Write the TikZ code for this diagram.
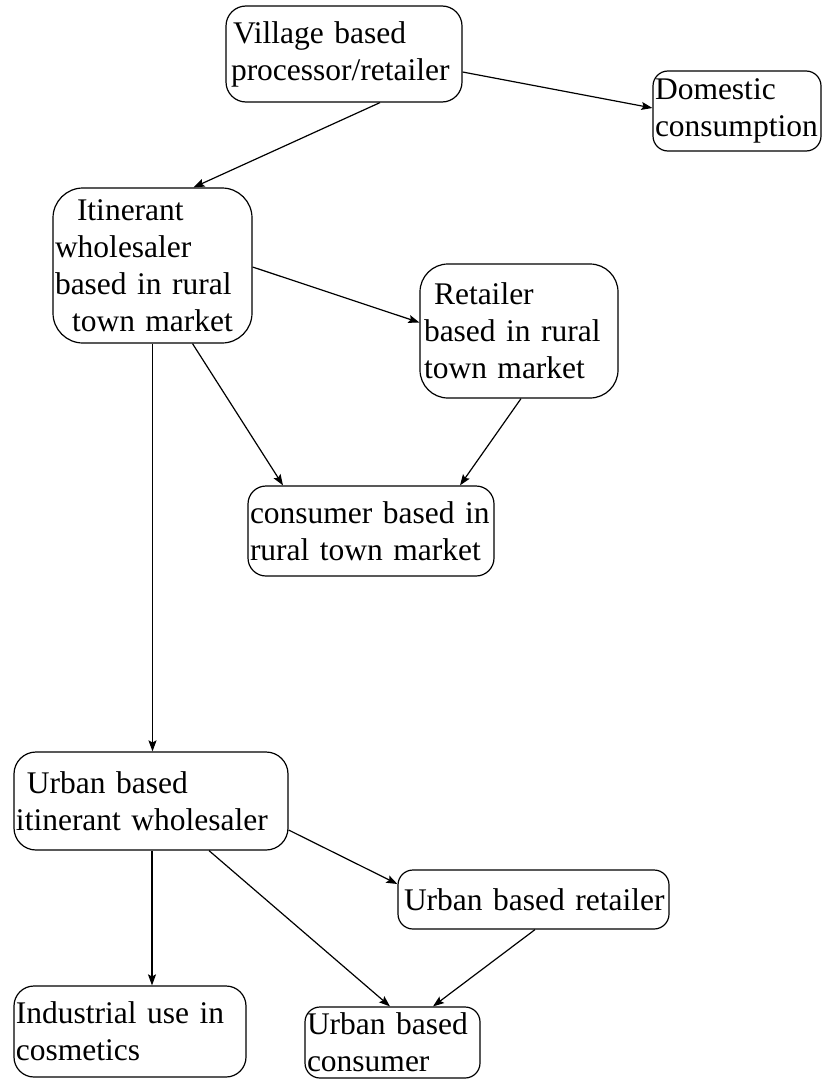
\documentclass[tikz,border=0pt]{standalone}
\usepackage{fontspec}
\setmainfont{Liberation Serif}
\usetikzlibrary{arrows.meta,calc}
\tikzset{
  box/.style={draw, line width=1.2pt, rounded corners=#1, align=left, inner xsep=2pt, inner ysep=0pt,
    font=\fontsize{31.5}{37}\selectfont},
  flow/.style={line width=1.2pt, -{Stealth[length=11pt,width=8pt,inset=2pt]}}
}
\begin{document}
\begin{tikzpicture}[x=1pt,y=-1pt]
\useasboundingbox[fill=white] (0,0) rectangle (823,1081);
\node[box=20pt, minimum width=236pt, minimum height=96pt, text width=232pt] (v) at (344,54)
  {\hspace*{5pt}Village based\\\hspace*{3pt}processor/retailer};
\node[box=15pt, minimum width=168pt, minimum height=80pt, text width=164pt] (d) at (737,111)
  {Domestic\\consumption};
\node[box=30pt, minimum width=199pt, minimum height=155pt, text width=195pt] (it) at (152.5,265.5)
  {\hspace*{22pt}Itinerant\\wholesaler\\based in rural\\\hspace*{17pt}town market};
\node[box=28pt, minimum width=198pt, minimum height=134pt, text width=194pt] (r) at (519,331)
  {\hspace*{12pt}Retailer\\\hspace*{2pt}based in rural\\\hspace*{2pt}town market};
\node[box=18pt, minimum width=246pt, minimum height=90pt, text width=242pt] (c) at (371,531)
  {consumer based in\\rural town market};
\node[box=22pt, minimum width=274pt, minimum height=98pt, text width=270pt] (uw) at (151,801)
  {\hspace*{11pt}Urban based\\itinerant wholesaler};
\node[box=15pt, minimum width=271pt, minimum height=59pt, text width=267pt] (ur) at (533.5,899.5)
  {\hspace*{4pt}Urban based retailer};
\node[box=20pt, minimum width=232pt, minimum height=91pt, text width=228pt] (ind) at (130,1031.5)
  {Industrial use in\\cosmetics};
\node[box=15pt, minimum width=175pt, minimum height=71pt, text width=171pt] (uc) at (392.5,1042.5)
  {Urban based\\consumer};

\draw[flow] ($(v.south)+(36,0)$) -- ($(it.north)+(41,0)$);
\draw[flow] ($(v.east)+(0,18)$) -- ($(d.west)+(0,-3)$);
\draw[flow] ($(it.east)+(0,1.5)$) -- ($(r.west)+(0,-8.5)$);
\draw[flow] ($(it.south)+(40,0)$) -- ($(c.north)+(-88,0)$);
\draw[flow] ($(r.south)+(2,0)$) -- ($(c.north)+(89,0)$);
\draw[flow] ($(it.south)+(0,0)$) -- ($(uw.north)+(1.5,0)$);
\draw[flow] ($(uw.south)+(1,0)$) -- ($(ind.north)+(22,0)$);
\draw[flow] ($(uw.east)+(0,29)$) -- ($(ur.west)+(0,-15.5)$);
\draw[flow] ($(uw.south)+(58,0)$) -- ($(uc.north)+(-2.5,0)$);
\draw[flow] ($(ur.south)+(1.5,0)$) -- ($(uc.north)+(40.5,0)$);
\end{tikzpicture}
\end{document}
